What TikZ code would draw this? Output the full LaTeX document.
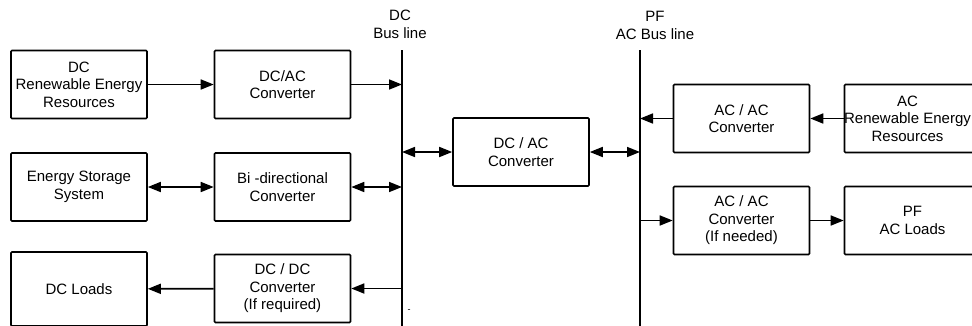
\documentclass[tikz,border=0pt]{standalone}
\usepackage{fontspec}
\setmainfont{Liberation Sans}
\usetikzlibrary{arrows.meta}
\tikzset{
	blk/.style={draw, line width=1.6pt, rounded corners=1pt, minimum width=136pt, minimum height=68pt, align=center, inner sep=2pt, font=\fontsize{15}{17.5}\selectfont},
	flow/.style={line width=1.7pt, -{Triangle[length=13pt,width=10pt]}},
	both/.style={line width=1.7pt, {Triangle[length=13pt,width=10pt]}-{Triangle[length=13pt,width=10pt]}},
	bus/.style={line width=1.8pt},
	lbl/.style={align=center, inner sep=0pt, font=\fontsize{15}{18}\selectfont}
}
\begin{document}
\begin{tikzpicture}[x=1pt, y=-1pt]
		\useasboundingbox (0, 0) rectangle (972, 325);
		\clip (0, 0) rectangle (972, 325);
		% DC side
		\node[blk] (dcres) at (79, 84.5) {DC\\Renewable Energy\\Resources};
		\node[blk] (dcac) at (282.5, 84.5) {DC/AC\\Converter};
		\node[blk] (ess) at (79, 187) {Energy Storage\\System};
		\node[blk] (bidir) at (282.5, 187) {Bi -directional\\Converter};
		\node[blk, minimum height=74pt] (dcload) at (79, 289) {DC Loads};
		\node[blk] (dcdc) at (282.5, 288.5) {DC / DC\\Converter\\(If required)};
		% bus lines
		\coordinate (dctop) at (402, 50);
		\coordinate (dcbot) at (402, 326);
		\coordinate (actop) at (640, 50);
		\coordinate (acbot) at (640, 326);
		\draw[bus] (dctop) -- (dcbot);
		\draw[bus] (actop) -- (acbot);
		\node[lbl] (dclab) at (400, 24) {DC\\Bus line};
		\node[lbl] (aclab) at (655, 25.5) {PF\\AC Bus line};
		\node[inner sep=0pt, font=\small] (dot) at (409, 311) {-};
		% middle converter
		\node[blk] (mid) at (521, 152) {DC / AC\\Converter};
		% AC side
		\node[blk] (acac) at (741.5, 118.5) {AC / AC\\Converter};
		\node[blk] (acres) at (912.5, 118.5) {};
		\node[blk, draw=none] (acrestxt) at (907.5, 118.5) {AC\\Renewable Energy\\Resources};
		\node[blk] (acac2) at (741.5, 220.5) {AC / AC\\Converter\\(If needed)};
		\node[blk] (acload) at (912.5, 220.5) {PF\\AC Loads};
		% connectors
		\draw[flow] (dcres) -- (dcac);
		\draw[flow] (dcac.east) -- (dcac.east -| dctop);
		\draw[both] (ess) -- (bidir);
		\draw[both] (bidir.east) -- (bidir.east -| dctop);
		\draw[flow] (dcdc.east -| dctop) -- (dcdc.east);
		\draw[flow] (dcdc) -- (dcload);
		\draw[both] (mid.west -| dctop) -- (mid.west);
		\draw[both] (mid.east) -- (mid.east -| actop);
		\draw[flow] (acres) -- (acac);
		\draw[flow] (acac.west) -- (acac.west -| actop);
		\draw[flow] (acac2.west -| actop) -- (acac2.west);
		\draw[flow] (acac2) -- (acload);
	\end{tikzpicture}
\end{document}
